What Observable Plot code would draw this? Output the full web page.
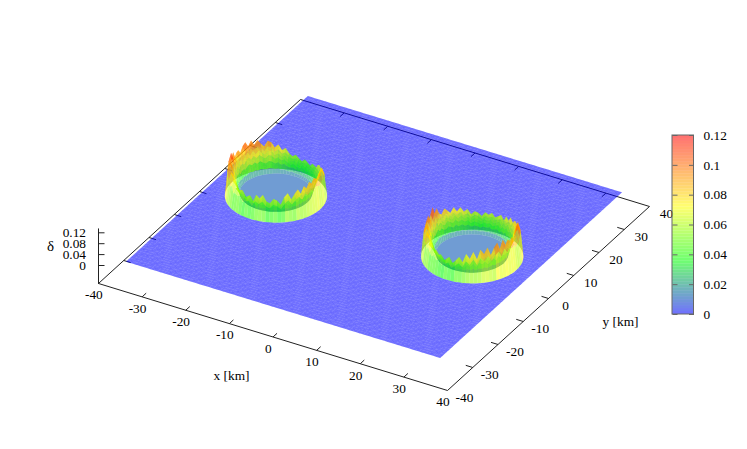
<!DOCTYPE html>
<html><head><meta charset="utf-8">
<script src="https://cdn.jsdelivr.net/npm/d3@7"></script>
<script src="https://cdn.jsdelivr.net/npm/@observablehq/plot@0.6"></script>
<style>html,body{margin:0;background:#fff}svg{display:block}svg text{font-family:"Liberation Serif",serif !important}</style>
</head><body><div id="chart"></div>
<script>
const xTicks = [-40,-30,-20,-10,0,10,20,30,40];
const yTicks = [-40,-30,-20,-10,0,10,20,30,40];
const zTicks = [0,0.04,0.08,0.12];
const cbTicks = [0,0.02,0.04,0.06,0.08,0.1,0.12];
const cbLabels = ["0","0.02","0.04","0.06","0.08","0.1","0.12"];
const paletteStops = [0,0.036,0.072,0.12];
const paletteColors = ["#0000ff","#00ff00","#ffff00","#ff0000"];
const craterCentres = [[-22.7,0.4],[22.4,0.2]];
const floorDelta = 0.011;
// crest height of each crater rim, every 4.5 degrees
const rimA = [.098,.09,.098,.102,.086,.092,.098,.082,.086,.07,.066,.076,.07,.056,.056,.058,.046,.052,.058,.048,.054,.064,.056,.064,.08,.072,.09,.08,.098,.104,.086,.098,.112,.098,.116,.1,.118,.11,.092,.106,.102,.088,.116,.102,.126,.118,.098,.11,.12,.088,.1,.076,.086,.062,.07,.066,.074,.052,.06,.068,.05,.076,.066,.08,.06,.054,.07,.064,.05,.074,.086,.064,.08,.092,.074,.096,.084,.102,.09,.104];
const rimB = [.106,.086,.096,.09,.106,.118,.1,.112,.09,.1,.082,.09,.086,.07,.086,.07,.08,.062,.076,.068,.06,.072,.064,.07,.056,.066,.07,.06,.078,.07,.086,.074,.09,.074,.086,.096,.08,.088,.11,.096,.124,.104,.09,.114,.1,.084,.108,.096,.08,.1,.084,.066,.086,.07,.06,.072,.058,.066,.048,.058,.068,.05,.062,.076,.06,.088,.072,.096,.07,.102,.086,.106,.078,.1,.114,.088,.116,.094,.108,.098];
// radial wall section: radius in km, height as a share of the crest, colour as a share of the crest
const ringRadii = [10.15,9.6,9.1,8.7,8.4,8.1,7.8,7.5,7.2];
const ringShare = [0,.85,1.1,.95,.8,.65,.45,.2,0];
const ringTint = [.5,.85,.92,.85,.72,.6,.4,.18,0];
const crestRing = 2;
const surfX = [-36,36], surfY = [-36,36], gridStep = 0.8, seamGrow = 1.03;
const zBase = -0.066, zTop = 0.136;

const ux=4.3625, uy=1.3375, vx=2.525, vy=-2.3, ox=373.5, oy=226.5, zk=272.5;
const project = (x,y,z=0)=>[ox+x*ux+y*vx, oy+x*uy+y*vy-z*zk];
const inside = ([x,y])=>craterCentres.some(([cx,cy])=>Math.hypot(x-cx,y-cy)<ringRadii[0]);
const snap = ([x,y])=>{
  for(const [cx,cy] of craterCentres){
    const dx=x-cx, dy=y-cy, r=Math.hypot(dx,dy), R=ringRadii[0];
    if(r<R){ const k=R/(r||1); return [cx+dx*k, cy+dy*k]; }
  }
  return [x,y];
};
const facets=[];
const addFacet=(pts,delta,depth)=>facets.push({pts,delta,depth});
// ground
const nx=Math.round((surfX[1]-surfX[0])/gridStep), ny=Math.round((surfY[1]-surfY[0])/gridStep);
const gx=i=>surfX[0]+(surfX[1]-surfX[0])*i/nx, gy=j=>surfY[0]+(surfY[1]-surfY[0])*j/ny;
for(let i=0;i<nx;i++)for(let j=0;j<ny;j++){
  const raw=[[gx(i),gy(j)],[gx(i+1),gy(j)],[gx(i+1),gy(j+1)],[gx(i),gy(j+1)]];
  if(raw.every(inside)) continue;
  const c=raw.map(snap);
  const mx=d3.mean(c,d=>d[0]), my=d3.mean(c,d=>d[1]);
  const grown=c.map(p=>project(mx+(p[0]-mx)*seamGrow,my+(p[1]-my)*seamGrow,0));
  addFacet(grown,0,project(mx,my,0)[1]);
}
// craters
[rimA,rimB].forEach((rim,k)=>{
  const [cx,cy]=craterCentres[k], n=rim.length;
  const vert=(a,j)=>{
    const t=2*Math.PI*((a+n)%n)/n, r=ringRadii[j], s=ringShare[j], c=rim[(a+n)%n];
    const lift=j>crestRing?floorDelta*(1-s):0;
    return {x:cx+r*Math.cos(t),y:cy+r*Math.sin(t),d:s*c+lift,tint:ringTint[j]*c+lift};
  };
  for(let a=0;a<n;a++)for(let j=0;j<ringRadii.length-1;j++){
    const q=[vert(a,j),vert(a+1,j),vert(a+1,j+1),vert(a,j+1)];
    addFacet(q.map(v=>project(v.x,v.y,v.d)),d3.mean(q,v=>v.tint),project(d3.mean(q,v=>v.x),d3.mean(q,v=>v.y),0)[1]);
  }
  const fl=d3.range(n).map(a=>{const v=vert(a,ringRadii.length-1);return project(v.x,v.y,floorDelta);});
  addFacet(fl,floorDelta,project(cx,cy,0)[1]);
});
facets.sort((a,b)=>a.depth-b.depth);
const verts=facets.flatMap((f,id)=>f.pts.map(p=>({id,sx:p[0],sy:p[1],delta:f.delta})));

// frame and ticks
const corners=[[-40,-40],[40,-40],[40,40],[-40,40],[-40,-40]].map(([x,y])=>project(x,y,zBase));
const tick=(x,y,dx,dy)=>{const a=project(x,y,zBase),b=project(x+dx,y+dy,zBase);return {x1:a[0],y1:a[1],x2:b[0],y2:b[1]};};
const inner=xTicks.slice(1,-1);
const baseTicks=[
  ...inner.map(x=>tick(x,-40,0,1.6)), ...inner.map(x=>tick(x,40,0,-1.6)),
  ...inner.map(y=>tick(-40,y,1.6,0)), ...inner.map(y=>tick(40,y,-1.6,0))];
const zAxisX=project(-40,-40,zBase)[0];
const zy=z=>project(-40,-40,z)[1];

// colour bar
const cbX=[672,693.5], cbY=[314,135], cbMax=0.12;
const cbPos=d=>cbY[0]+(cbY[1]-cbY[0])*d/cbMax;
const bands=d3.range(60).map(i=>({d1:cbMax*i/60,d2:cbMax*(i+1)/60}));
const cbTickRows=cbTicks.map(d=>({d,label:cbLabels[cbTicks.indexOf(d)]}));
const ink="#222", barInk="#666";

const plot=Plot.plot({
  width:747,height:449,margin:0,
  style:{fontSize:"13.33px",background:"white",color:"#000"},
  x:{axis:null,domain:[0,747],range:[0,747]},
  y:{axis:null,domain:[0,449],range:[0,449]},
  color:{type:"linear",domain:paletteStops,range:paletteColors,interpolate:"rgb",clamp:true},
  marks:[
    Plot.line(corners,{x:d=>d[0],y:d=>d[1],stroke:ink,strokeWidth:1}),
    Plot.link(baseTicks,{x1:"x1",y1:"y1",x2:"x2",y2:"y2",stroke:ink,strokeWidth:1}),
    Plot.link([0],{x1:()=>zAxisX,x2:()=>zAxisX,y1:()=>zy(zBase),y2:()=>zy(zTop),stroke:ink,strokeWidth:1}),
    Plot.link(zTicks,{x1:()=>zAxisX,x2:()=>zAxisX+6,y1:d=>zy(d),y2:d=>zy(d),stroke:ink,strokeWidth:1}),
    Plot.line(verts,{x:"sx",y:"sy",z:"id",fill:"delta",fillOpacity:0.56,stroke:"none",curve:"linear-closed"}),
    Plot.text(xTicks,{x:d=>project(d,-40,zBase)[0]-4.6,y:d=>project(d,-40,zBase)[1]+11.6,text:d=>String(d),fill:"black"}),
    Plot.text(yTicks,{x:d=>project(40,d,zBase)[0]+17,y:d=>project(40,d,zBase)[1]+7,text:d=>String(d),fill:"black"}),
    Plot.text(zTicks,{x:()=>zAxisX-12.5,y:d=>zy(d),text:d=>String(d),textAnchor:"end",fill:"black"}),
    Plot.text(["x [km]"],{x:()=>231,y:()=>375,text:d=>d,fill:"black"}),
    Plot.text(["y [km]"],{x:()=>620,y:()=>321,text:d=>d,fill:"black"}),
    Plot.text(["δ"],{x:()=>50,y:()=>246,text:d=>d,fill:"black",fontSize:15}),
    Plot.rect(bands,{x1:()=>cbX[0],x2:()=>cbX[1],y1:d=>cbPos(d.d1),y2:d=>cbPos(d.d2),fill:d=>(d.d1+d.d2)/2,fillOpacity:0.56}),
    Plot.rect([0],{x1:()=>cbX[0],x2:()=>cbX[1],y1:()=>cbY[0],y2:()=>cbY[1],fill:"none",stroke:barInk}),
    Plot.link(cbTickRows,{x1:()=>cbX[0],x2:()=>cbX[0]+5,y1:d=>cbPos(d.d),y2:d=>cbPos(d.d),stroke:barInk}),
    Plot.link(cbTickRows,{x1:()=>cbX[1]-5,x2:()=>cbX[1],y1:d=>cbPos(d.d),y2:d=>cbPos(d.d),stroke:barInk}),
    Plot.text(cbTickRows,{x:()=>703,y:d=>cbPos(d.d),text:"label",textAnchor:"start",fill:"black"})
  ]
});
document.getElementById("chart").append(plot);
</script></body></html>
